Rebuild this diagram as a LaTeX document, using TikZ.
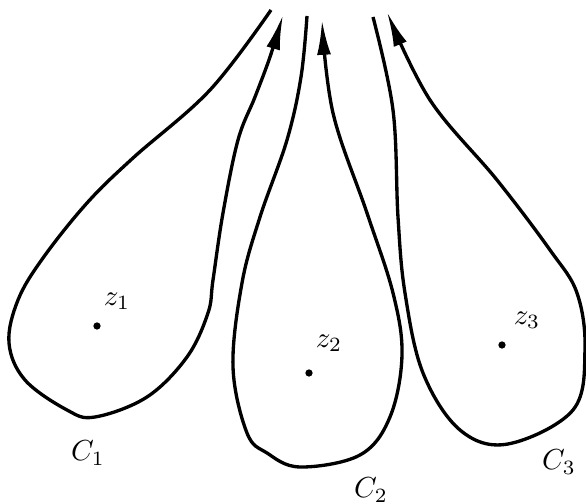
\documentclass[tikz,border=0pt]{standalone}
\usetikzlibrary{arrows.meta}
\begin{document}
\begin{tikzpicture}[x=0.345pt,y=-0.345pt,
  loopline/.style={line width=1.15pt,line join=round,-{Latex[length=12pt,width=4.8pt]}},
  ptdot/.style={circle,fill=black,inner sep=0pt,minimum size=2.5pt},
  lbl/.style={inner sep=0pt}]
\useasboundingbox (0,0) rectangle (586,504);
% C1
\draw[loopline] plot[smooth,tension=0.6] coordinates {
 (271,10) (210,90) (133,158) (87,203) (43,258)
 (18,300) (9,343) (25,380) (67,410) (95,417)
 (147,397) (187,357) (208,313) (213,280)
 (223,213) (238,140) (255,97) (270,57) (283,15)};
% C2
\draw[loopline] plot[smooth,tension=0.6] coordinates {
 (307,16) (301,77) (287,140) (260,217) (242,283)
 (233,367) (247,433) (267,453) (300,467) (360,455)
 (390,417) (402,355) (393,293) (367,213)
 (333,113) (322,20)};
% C3
\draw[loopline] plot[smooth,tension=0.6] coordinates {
 (373,17) (393,110) (398,217) (405,293)
 (423,373) (460,430) (508,444) (573,410)
 (585,350) (577,293) (550,250) (497,180)
 (430,100) (387,12)};
% points and labels
\node[ptdot] (p1) at (97,326) {};
\node[ptdot] (p2) at (309,373) {};
\node[ptdot] (p3) at (502,345) {};
\node[lbl] (z1) at (117,301) {$z_1$};
\node[lbl] (z2) at (329,343) {$z_2$};
\node[lbl] (z3) at (527,320) {$z_3$};
\node[lbl] (c1) at (88,453) {$C_1$};
\node[lbl] (c2) at (371,490) {$C_2$};
\node[lbl] (c3) at (559,462) {$C_3$};
\end{tikzpicture}
\end{document}
